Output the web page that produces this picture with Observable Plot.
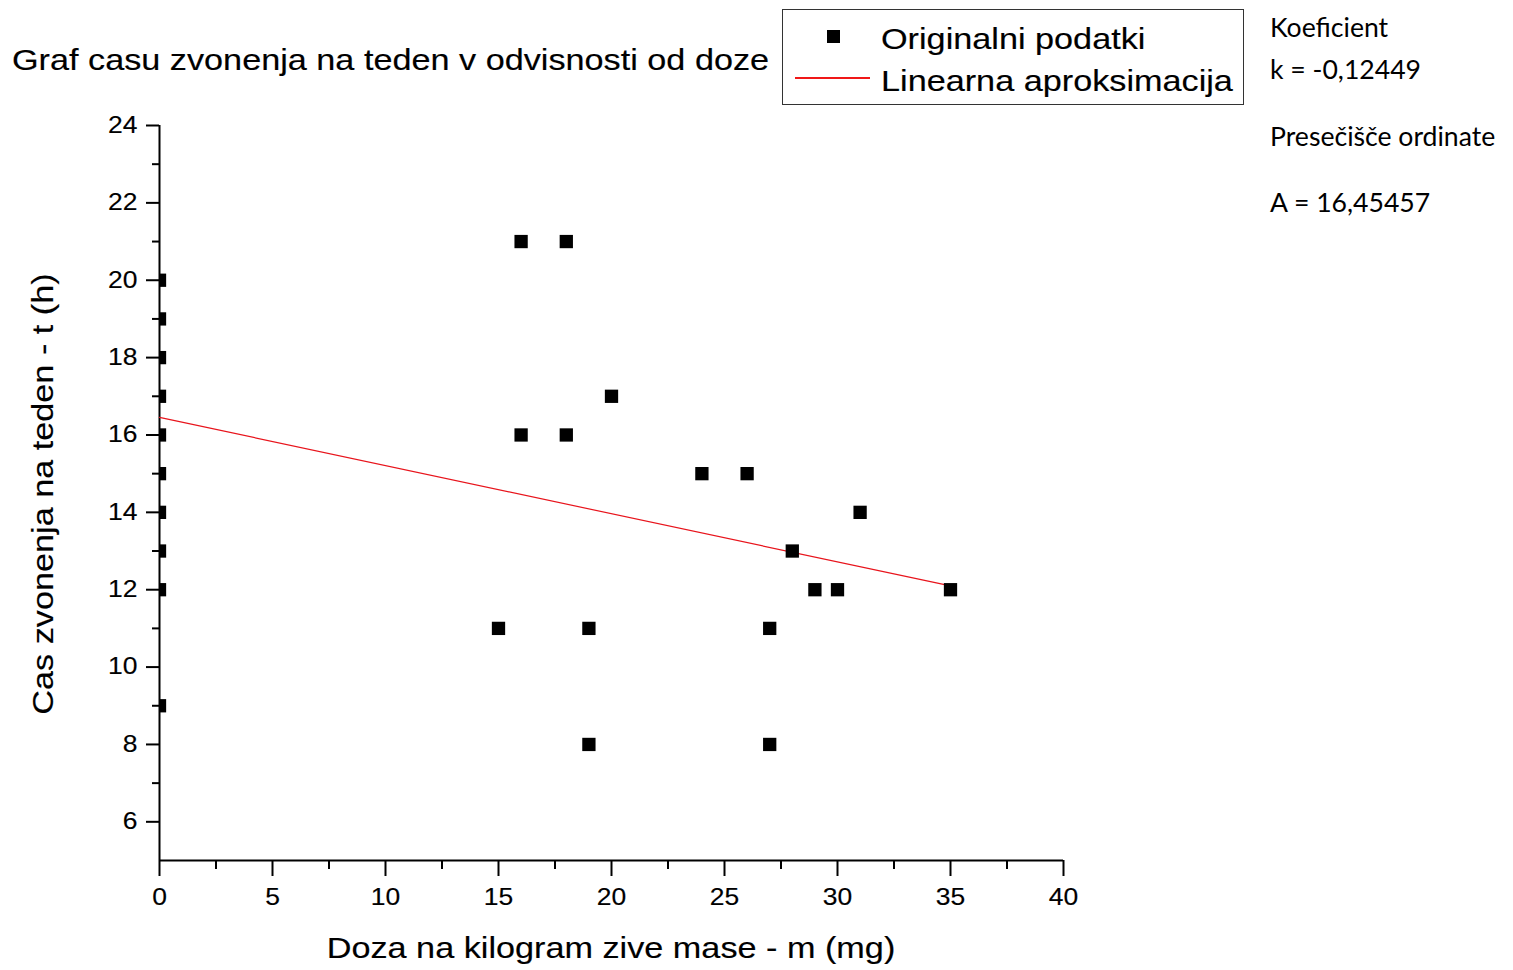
<!DOCTYPE html>
<html>
<head>
<meta charset="utf-8">
<script src="https://cdn.jsdelivr.net/npm/d3@7"></script>
<script src="https://cdn.jsdelivr.net/npm/@observablehq/plot@0.6"></script>
<style>
  html, body { margin: 0; padding: 0; background: #fff; }
  #wrap { position: relative; width: 1513px; height: 970px; overflow: hidden; background: #fff; }
  #wrap svg { position: absolute; left: 0; top: 0; }
  #wrap svg text { stroke: #000; stroke-width: 0.15px; }
  .lbl { position: absolute; white-space: nowrap; line-height: 1; font-family: "Liberation Sans", Arial, sans-serif; color: #000; -webkit-text-stroke: 0.15px #000; }
  .ann { position: absolute; white-space: nowrap; line-height: 1; font-family: Lato, "Open Sans", sans-serif; font-size: 26.6px; color: #000; }
</style>
</head>
<body>
<div id="wrap"></div>
<script>
// ---- data ----
const doseMg = [0,0,0,0,0,0,0,0,0,0,15,16,16,18,18,19,19,20,24,26,27,27,28,29,30,31,35];
const hoursPerWeek = [20,19,18,17,16,15,14,13,12,9,11,21,16,21,16,11,8,17,15,15,11,8,13,12,12,14,12];
const slopeK = -0.12449;
const interceptA = 16.45457;
const fitRangeX = [0, 35];
const xMajorTicks = [0,5,10,15,20,25,30,35,40];
const xMinorTicks = [2.5,7.5,12.5,17.5,22.5,27.5,32.5,37.5];
const yMajorTicks = [6,8,10,12,14,16,18,20,22,24];
const yMinorTicks = [7,9,11,13,15,17,19,21,23];

const titleText = "Graf casu zvonenja na teden v odvisnosti od doze";
const xLabelText = "Doza na kilogram zive mase - m (mg)";
const yLabelText = "Cas zvonenja na teden - t (h)";
const legendLabels = ["Originalni podatki", "Linearna aproksimacija"];
const annotationLines = ["Koeficient", "k = -0,12449", "Presečišče ordinate", "A = 16,45457"];

const points = doseMg.map((x, i) => ({x, y: hoursPerWeek[i]}));
const fitLine = fitRangeX.map(x => ({x, y: interceptA + slopeK * x}));

const plot = Plot.plot({
  width: 1513,
  height: 970,
  marginLeft: 159,
  marginRight: 450,
  marginTop: 125,
  marginBottom: 110,
  x: {domain: [0, 40]},
  y: {domain: [5, 24]},
  style: {fontFamily: "'Liberation Sans', Arial, sans-serif", fontSize: "23px", color: "#000", background: "transparent"},
  marks: [
    Plot.axisX({ticks: xMajorTicks, tickSize: 16, tickPadding: 12, strokeWidth: 2, fontSize: 23, label: null}),
    Plot.axisX({ticks: xMinorTicks, tickSize: 9, strokeWidth: 2, fill: "none", label: null}),
    Plot.axisY({ticks: yMajorTicks, tickSize: 13, tickPadding: 9, strokeWidth: 2, fontSize: 23, label: null}),
    Plot.axisY({ticks: yMinorTicks, tickSize: 7, strokeWidth: 2, fill: "none", label: null}),
    Plot.ruleX([0], {stroke: "#000", strokeWidth: 2}),
    Plot.ruleY([5], {stroke: "#000", strokeWidth: 2}),
    Plot.line(fitLine, {x: "x", y: "y", stroke: "#e8141c", strokeWidth: 1.2}),
    Plot.dot(points, {x: "x", y: "y", symbol: "square", fill: "#000", stroke: "none", r: 7.5, clip: true})
  ]
});

const wrap = document.getElementById("wrap");
wrap.appendChild(plot);

// stretch tick labels horizontally like the original font rendering
plot.querySelectorAll("text").forEach(t => {
  const len = t.getComputedTextLength();
  if (len > 0) {
    t.setAttribute("textLength", (len * 1.15).toFixed(2));
    t.setAttribute("lengthAdjust", "spacingAndGlyphs");
  }
});

function addDiv(cls, text, css) {
  const d = document.createElement("div");
  d.className = cls;
  d.textContent = text;
  Object.assign(d.style, css);
  wrap.appendChild(d);
  return d;
}

const F = 29;
const S = 1.18;
const base = 0.8465 * F;
// title
addDiv("lbl", titleText, {left: "12px", top: (70.5 - base) + "px", fontSize: F + "px", transformOrigin: "0 0", transform: `scaleX(${S})`});
// x label
addDiv("lbl", xLabelText, {left: "611px", top: (958.5 - base) + "px", fontSize: F + "px", transformOrigin: "50% 0", transform: `translateX(-50%) scaleX(${S})`});
// y label
addDiv("lbl", yLabelText, {left: "54px", top: "494px", fontSize: F + "px", transformOrigin: "0 0", transform: `rotate(-90deg) scaleX(${S}) translate(-50%, ${-base}px)`});

// legend box
const box = document.createElement("div");
Object.assign(box.style, {position: "absolute", left: "782px", top: "9px", width: "462px", height: "96px", border: "1px solid #333", boxSizing: "border-box"});
wrap.appendChild(box);
const sq = document.createElement("div");
Object.assign(sq.style, {position: "absolute", left: "827px", top: "30px", width: "13px", height: "13px", background: "#000"});
wrap.appendChild(sq);
const ln = document.createElement("div");
Object.assign(ln.style, {position: "absolute", left: "795px", top: "77px", width: "75px", height: "0", borderTop: "2px solid #f01818"});
wrap.appendChild(ln);
addDiv("lbl", legendLabels[0], {left: "881px", top: (49.5 - base) + "px", fontSize: F + "px", transformOrigin: "0 0", transform: `scaleX(${S})`});
addDiv("lbl", legendLabels[1], {left: "881px", top: (91.5 - base) + "px", fontSize: F + "px", transformOrigin: "0 0", transform: `scaleX(${S})`});

// annotations on the right
const annBaselines = [38, 80, 147, 213];
const aF = 26.6;
annotationLines.forEach((s, i) => {
  addDiv("ann", s, {left: "1270px", top: (annBaselines[i] - 0.887 * aF) + "px"});
});
</script>
</body>
</html>
